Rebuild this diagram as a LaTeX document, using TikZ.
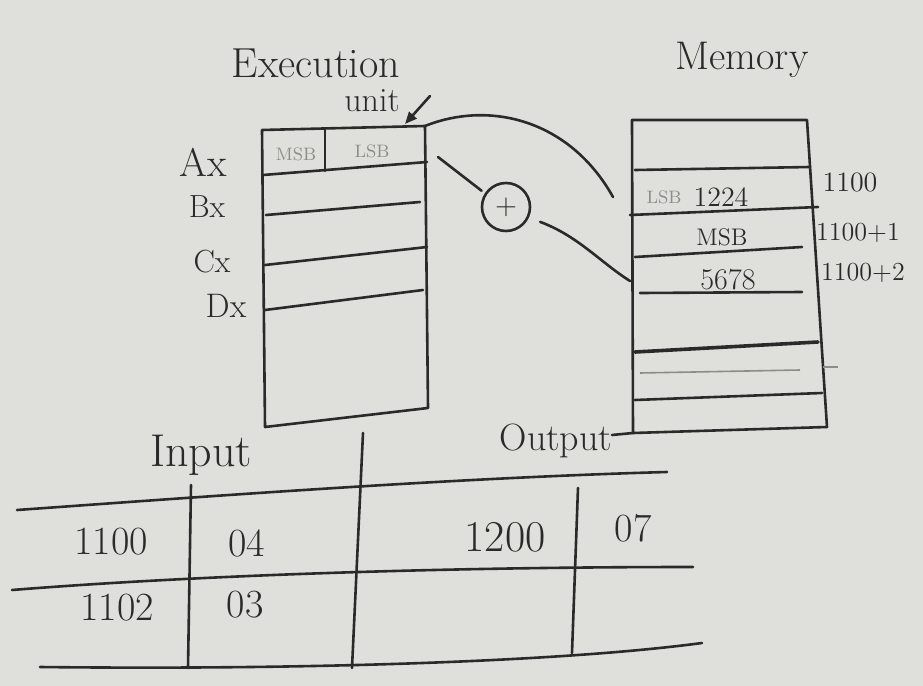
\documentclass[tikz,border=0pt]{standalone}
\usetikzlibrary{arrows.meta}

\definecolor{paper}{RGB}{223,223,219}
\definecolor{ink}{RGB}{42,42,42}
\definecolor{faint}{RGB}{140,140,138}

\tikzset{
  ink/.style={draw=ink, line width=1.3pt, line cap=round, line join=round},
  hand/.style={text=ink, inner sep=0pt},
  pale/.style={text=faint, inner sep=0pt, font=\fontsize{9}{10}\selectfont},
  big/.style={font=\fontsize{#1}{#1}\selectfont},
}

\begin{document}
\begin{tikzpicture}[x=0.5pt, y=-0.5pt]
    \fill[paper] (0,0) rectangle (923,686);
    \useasboundingbox (0,0) rectangle (923,686);

    % nadpisy
    \node[hand, big=21] (exec) at (316,63) {Execution};
    \node[hand, big=17] (unit) at (372,101) {unit};
    \node[hand, big=20] (mem) at (742,60) {Memory};
    \coordinate (slash) at (430,96);
    \coordinate (slashend) at (405,124);

    % execution unit
    \draw[ink] (262,130) coordinate (EUtl)
        -- (425,126) coordinate (EUtr)
        -- (428,408) coordinate (EUbr)
        -- (265,427) coordinate (EUbl)
        -- cycle;
    \draw[ink] (263,175) coordinate (AXw) -- (427,162) coordinate (AXe);
    \draw[ink] (266,215) coordinate (BXw) -- (420,202) coordinate (BXe);
    \draw[ink] (265,265) coordinate (CXw) -- (427,247) coordinate (CXe);
    \draw[ink] (265,310) coordinate (DXw) -- (423,290) coordinate (DXe);
    \draw[ink] (325,129) coordinate (AXtop) -- (325,171) coordinate (AXbot);
    \node[pale] (axmsb) at (296,154) {MSB};
    \node[pale] (axlsb) at (372,151) {LSB};

    % registry
    \node[hand, big=20] (ax) at (203,162) {Ax};
    \node[hand, big=16] (bx) at (207,207) {Bx};
    \node[hand, big=16] (cx) at (212,262) {Cx};
    \node[hand, big=17] (dx) at (226,306) {Dx};

    \draw[ink, -{Triangle[length=6pt, width=5pt]}] (slash) -- (slashend);

    % memory
    \draw[ink] (632,120) coordinate (Mtl)
        -- (807,120) coordinate (Mtr)
        -- (820,320)
        -- (827,427) coordinate (Mbr)
        -- (633,433) coordinate (Mbl)
        -- cycle;
    \draw[ink] (635,170) coordinate (M1w) -- (810,167) coordinate (M1e);
    \draw[ink] (630,215) coordinate (M2w) -- (818,207) coordinate (M2e);
    \draw[ink] (635,257) coordinate (M3w) -- (802,247) coordinate (M3e);
    \draw[ink] (640,293) coordinate (M4w) -- (802,292) coordinate (M4e);
    \draw[ink, line width=1.8pt] (635,352) coordinate (M5w) -- (818,342) coordinate (M5e);
    \draw[draw=faint, line width=0.8pt] (640,373) coordinate (M6w) -- (800,370) coordinate (M6e);
    \draw[draw=faint, line width=0.8pt] (823,367) coordinate (tickw) -- (838,367) coordinate (ticke);
    \draw[ink] (635,400) coordinate (M7w) -- (822,393) coordinate (M7e);

    \node[pale] (mlsb) at (664,197) {LSB};
    \node[hand, big=14] (m1) at (721,197) {1224};
    \node[hand, big=12] (m2) at (722,237) {MSB};
    \node[hand, big=15] (m3) at (728,280) {5678};

    \node[hand, big=14] (a1) at (850,182) {1100};
    \node[hand, big=13] (a2) at (858,233) {1100+1};
    \node[hand, big=13] (a3) at (863,273) {1100+2};

    % scitani
    \node[circle, draw=ink, line width=1.3pt, minimum size=24pt, inner sep=0pt,
          text=ink, big=14] (plus) at (506,207) {$+$};
    \coordinate (axout) at (438,157);
    \coordinate (m1in) at (613,197);
    \coordinate (m3in) at (630,281);
    \draw[ink] (EUtr) .. controls (490,100) and (570,120) .. (m1in);
    \draw[ink, shorten >=2pt] (axout) -- (plus.147);
    \draw[ink, shorten <=6pt] (plus.-25) .. controls (578,236) and (600,262) .. (m3in);

    % tabulka
    \node[hand, big=23] (inp) at (201,455) {Input};
    \node[hand, big=19] (outp) at (556,441) {Output};
    \coordinate (tail) at (612,435);
    \draw[ink] (tail) -- (Mbl);

    \draw[ink] (17,510) coordinate (T1w) .. controls (200,497) and (450,478) .. (667,472) coordinate (T1e);
    \draw[ink] (12,590) coordinate (T2w) .. controls (200,575) and (450,567) .. (693,567) coordinate (T2e);
    \draw[ink] (40,667) coordinate (T3w) .. controls (300,670) and (560,662) .. (702,643) coordinate (T3e);
    \draw[ink] (191,485) coordinate (V1t) -- (188,668) coordinate (V1b);
    \draw[ink] (363,433) coordinate (V2t) -- (352,668) coordinate (V2b);
    \draw[ink] (578,488) coordinate (V3t) -- (572,653) coordinate (V3b);

    \node[hand, big=20] (in1) at (111,542) {1100};
    \node[hand, big=20] (in1v) at (247,543) {04};
    \node[hand, big=20] (in2) at (117,608) {1102};
    \node[hand, big=20] (in2v) at (245,605) {03};
    \node[hand, big=22] (out1) at (505,537) {1200};
    \node[hand, big=20] (out1v) at (633,528) {07};
\end{tikzpicture}
\end{document}
